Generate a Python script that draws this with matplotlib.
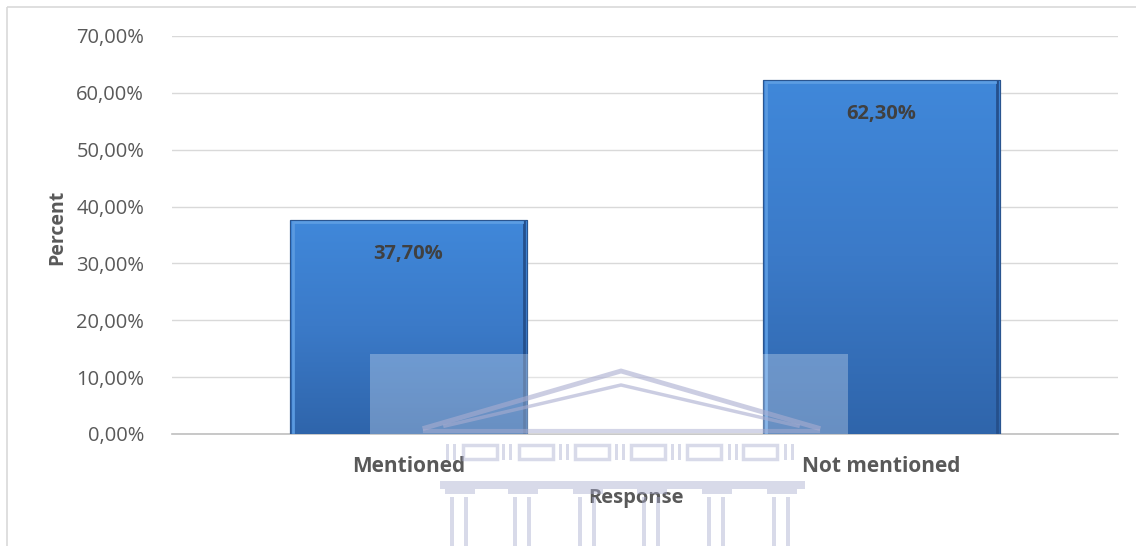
import numpy as np
import matplotlib.pyplot as plt
from matplotlib.patches import Rectangle
from matplotlib.ticker import FuncFormatter
from matplotlib.colors import LinearSegmentedColormap

plt.rcParams['font.family'] = ['Open Sans', 'DejaVu Sans']

categories = ["Mentioned", "Not mentioned"]
percents = [37.70, 62.30]
yticks = [0, 10, 20, 30, 40, 50, 60, 70]

TEXT_GRAY = "#595959"
GRID_GRAY = "#d9d9d9"


def pct(v, _=None):
    return f"{v:.2f}".replace(".", ",") + "%"


fig = plt.figure(figsize=(11.36, 5.46), dpi=100)
ax = fig.add_axes([172 / 1136, 1 - 434 / 546, 946 / 1136, 398 / 546])

x = np.arange(len(categories))
bars = ax.bar(x, percents, width=0.5, color="#3a78c6", edgecolor="#2a5590",
              linewidth=0.8, zorder=3)

# vertical gradient clipped to each bar
grad = np.linspace(0, 1, 256).reshape(-1, 1)
cmap = LinearSegmentedColormap.from_list("bar", ["#2f65ab", "#3b7ac8", "#4088da"])
for b in bars:
    x0, w, h = b.get_x(), b.get_width(), b.get_height()
    im = ax.imshow(grad, cmap=cmap, aspect="auto", origin="lower",
                   extent=[x0, x0 + w, 0, h], zorder=3.5)
    im.set_clip_path(b)
    # bevel edges
    ax.plot([x0 + 0.006, x0 + 0.006], [0.3, h - 0.3], color="#5a9ae0", lw=2, zorder=4)
    ax.plot([x0 + w - 0.006, x0 + w - 0.006], [0.3, h - 0.3], color="#25508c", lw=2, zorder=4)
    ax.plot([x0 + 0.01, x0 + w - 0.01], [h - 0.35, h - 0.35], color="#5c9de3", lw=2, zorder=4)
    ax.add_patch(Rectangle((x0, 0), w, h, fill=False, ec="#2a5590", lw=0.8, zorder=4.5))

for xi, v in zip(x, percents):
    ax.text(xi, v - 6.1, pct(v), ha="center", va="center", fontsize=14.5,
            fontweight="bold", color="#404040", zorder=6)

ax.set_xlim(-0.5, 1.5)
ax.set_ylim(0, 70)
ax.set_yticks(yticks)
ax.yaxis.set_major_formatter(FuncFormatter(pct))
ax.set_xticks(x)
ax.set_xticklabels(categories, fontsize=15, fontweight="bold", color=TEXT_GRAY)
ax.tick_params(axis="y", labelsize=14.5, labelcolor=TEXT_GRAY, length=0, pad=20)
ax.tick_params(axis="x", length=0, pad=16)
ax.grid(axis="y", color=GRID_GRAY, lw=1, zorder=0)
for s in ["top", "right", "left"]:
    ax.spines[s].set_visible(False)
ax.spines["bottom"].set_color("#bfbfbf")
ax.spines["bottom"].set_linewidth(1.2)
ax.set_ylabel("Percent", fontsize=14, fontweight="bold", color=TEXT_GRAY)
ax.set_xlabel("Response", fontsize=14.5, fontweight="bold", color=TEXT_GRAY)
ax.yaxis.set_label_coords(-0.111, 0.52)
ax.xaxis.set_label_coords(0.49, -0.135)

# overlay in pixel coordinates for frame and faint watermark
ov = fig.add_axes([0, 0, 1, 1], zorder=10)
ov.set_xlim(0, 1136)
ov.set_ylim(546, 0)
ov.axis("off")
ov.patch.set_alpha(0)
ov.add_patch(Rectangle((7, 7), 1140, 560, fill=False, ec="#d9d9d9", lw=1.2))

wm = "#a9add0"
ov.add_patch(Rectangle((370, 354), 478, 80, fc="white", alpha=0.28, lw=0))
ov.plot([425, 621, 818], [428, 371, 428], color=wm, lw=3.5, alpha=0.6, solid_joinstyle="miter")
ov.plot([445, 621, 798], [426, 385, 426], color=wm, lw=2.5, alpha=0.6)
ov.plot([425, 818], [431, 431], color=wm, lw=3, alpha=0.5)
for cx in np.linspace(452, 790, 7):
    ov.add_patch(Rectangle((cx - 6, 444), 3, 16, fc=wm, alpha=0.45, lw=0))
    ov.add_patch(Rectangle((cx + 1, 444), 3, 16, fc=wm, alpha=0.45, lw=0))
for cx in np.linspace(480, 760, 6):
    ov.add_patch(Rectangle((cx - 17, 445), 34, 14, fill=False, ec=wm, lw=2.5, alpha=0.45))
ov.add_patch(Rectangle((440, 481), 365, 8, fc=wm, alpha=0.45, lw=0))
for cx in [460, 523, 588, 652, 717, 782]:
    ov.add_patch(Rectangle((cx - 15, 489), 30, 5, fc=wm, alpha=0.45, lw=0))
    ov.add_patch(Rectangle((cx - 10, 497), 4, 50, fc=wm, alpha=0.45, lw=0))
    ov.add_patch(Rectangle((cx + 4, 497), 4, 50, fc=wm, alpha=0.45, lw=0))

fig.savefig("out.png", dpi=100)
